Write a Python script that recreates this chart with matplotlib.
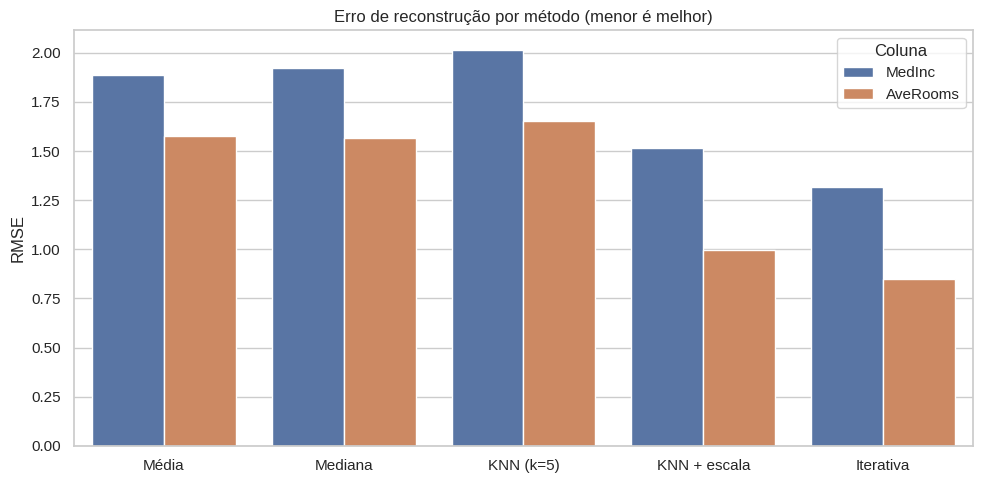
import pandas as pd
import matplotlib
matplotlib.use("Agg")
import matplotlib.pyplot as plt
import seaborn as sns

metodos = ['Média', 'Mediana', 'KNN (k=5)', 'KNN + escala', 'Iterativa']
rmse_medinc = [1.888, 1.923, 2.015, 1.514, 1.316]
rmse_averooms = [1.577, 1.566, 1.653, 0.996, 0.848]

df = pd.DataFrame({
    'Método': metodos * 2,
    'RMSE': rmse_medinc + rmse_averooms,
    'Coluna': ['MedInc'] * len(metodos) + ['AveRooms'] * len(metodos),
})

sns.set_theme(style='whitegrid')
plt.rcParams['font.family'] = ['Liberation Sans', 'DejaVu Sans']
fig, ax = plt.subplots(figsize=(9.84, 4.84), dpi=100)
sns.barplot(data=df, x='Método', y='RMSE', hue='Coluna', ax=ax)
ax.set_title('Erro de reconstrução por método (menor é melhor)')
ax.set_xlabel('')
ax.set_ylabel('RMSE')
fig.subplots_adjust(left=0.075, right=0.989, top=0.938, bottom=0.079)
plt.savefig('out.png')
